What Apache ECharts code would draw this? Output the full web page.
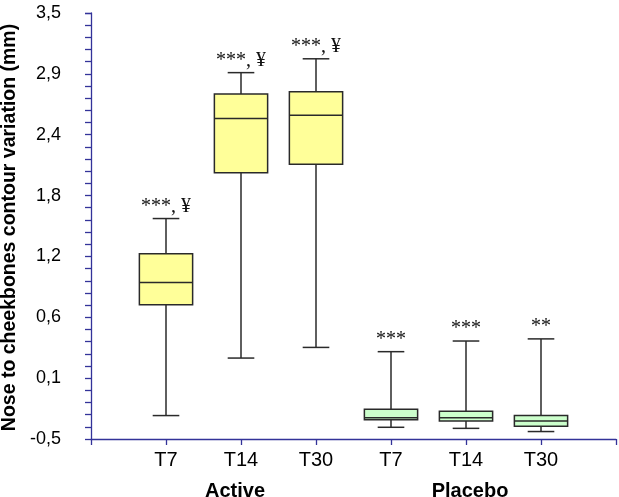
<!DOCTYPE html>
<html>
<head>
<meta charset="utf-8">
<script src="https://cdn.jsdelivr.net/npm/echarts@6/dist/echarts.min.js"></script>
<style>html,body{margin:0;padding:0;background:#fff;}#c{width:619px;height:497px;}</style>
</head>
<body>
<div id="c"></div>
<script>
const categories = ['T7', 'T14', 'T30', 'T7', 'T14', 'T30'];
const groups = ['Active', 'Placebo'];
const groupOf = [0, 0, 0, 1, 1, 1];
const whiskerLow = [-0.28, 0.26, 0.36, -0.39, -0.40, -0.43];
const q1 = [0.76, 2.00, 2.08, -0.32, -0.33, -0.38];
const median = [0.97, 2.51, 2.54, -0.30, -0.30, -0.33];
const q3 = [1.24, 2.74, 2.76, -0.22, -0.24, -0.28];
const whiskerHigh = [1.57, 2.94, 3.07, 0.32, 0.42, 0.44];
const annotations = ['***, ¥', '***, ¥', '***, ¥', '***', '***', '**'];
const yLabels = ['-0,5', '0,1', '0,6', '1,2', '1,8', '2,4', '2,9', '3,5'];

const fills = ['#FFFF99', '#CCFFCC'];
const axisColor = '#333399';

const axisCats = [''].concat(categories, ['']);
const data = categories.map((c, i) => [i + 1, whiskerLow[i], q1[i], median[i], q3[i], whiskerHigh[i], i]);

const chart = echarts.init(document.getElementById('c'));
chart.setOption({
  animation: false,
  grid: { left: 91, right: 2, top: 13, bottom: 58 },
  xAxis: {
    type: 'category',
    data: axisCats,
    boundaryGap: false,
    axisLine: { onZero: false, lineStyle: { color: axisColor, width: 1.3 } },
    axisTick: { show: true, length: 6, inside: false, lineStyle: { color: axisColor, width: 1.3 } },
    axisLabel: { color: '#000', fontSize: 20, fontFamily: 'Liberation Sans, Arial', margin: 11, interval: 0 },
    splitLine: { show: false }
  },
  yAxis: {
    type: 'value',
    min: -0.5,
    max: 3.5,
    interval: 4 / 7,
    axisLine: { show: true, lineStyle: { color: axisColor, width: 1.3 } },
    axisTick: { show: true, length: 6, lineStyle: { color: axisColor, width: 1.3 } },
    minorTick: { show: true, splitNumber: 5, length: 6, lineStyle: { color: axisColor, width: 1.3 } },
    splitLine: { show: false },
    axisLabel: {
      color: '#000', fontSize: 18, fontFamily: 'Liberation Sans, Arial', margin: 30,
      formatter: function (v) {
        const k = Math.round((v + 0.5) / (4 / 7));
        return yLabels[k] !== undefined ? yLabels[k] : '';
      }
    }
  },
  graphic: [
    {
      type: 'text', x: 9.5, y: 227.5, rotation: Math.PI / 2,
      style: { text: 'Nose to cheekbones contour variation (mm)', fontSize: 19.5, fontWeight: 'bold',
        fontFamily: 'Liberation Sans, Arial', fill: '#000', textAlign: 'center', textVerticalAlign: 'middle' }
    },
    {
      type: 'text', x: 235, y: 491,
      style: { text: groups[0], fontSize: 20, fontWeight: 'bold', fontFamily: 'Liberation Sans, Arial',
        fill: '#000', textAlign: 'center', textVerticalAlign: 'middle' }
    },
    {
      type: 'text', x: 470, y: 491,
      style: { text: groups[1], fontSize: 20, fontWeight: 'bold', fontFamily: 'Liberation Sans, Arial',
        fill: '#000', textAlign: 'center', textVerticalAlign: 'middle' }
    }
  ],
  series: [{
    type: 'custom',
    data: data,
    encode: { x: 0, y: [1, 2, 3, 4, 5] },
    renderItem: function (params, api) {
      const x = api.value(0);
      const idx = api.value(6);
      const pLow = api.coord([x, api.value(1)]);
      const pQ1 = api.coord([x, api.value(2)]);
      const pMed = api.coord([x, api.value(3)]);
      const pQ3 = api.coord([x, api.value(4)]);
      const pHigh = api.coord([x, api.value(5)]);
      const band = api.size([1, 0])[0];
      const bw = band * 0.71;
      const cw = bw / 2;
      const cx = pLow[0];
      const stroke = { stroke: '#2a2a2a', lineWidth: 1.5 };
      return {
        type: 'group',
        children: [
          { type: 'line', shape: { x1: cx, y1: pHigh[1], x2: cx, y2: pLow[1] }, style: stroke },
          { type: 'line', shape: { x1: cx - cw / 2, y1: pHigh[1], x2: cx + cw / 2, y2: pHigh[1] }, style: stroke },
          { type: 'line', shape: { x1: cx - cw / 2, y1: pLow[1], x2: cx + cw / 2, y2: pLow[1] }, style: stroke },
          { type: 'rect', shape: { x: cx - bw / 2, y: pQ3[1], width: bw, height: pQ1[1] - pQ3[1] },
            style: { fill: fills[groupOf[idx]], stroke: '#2a2a2a', lineWidth: 1.5 } },
          { type: 'line', shape: { x1: cx - bw / 2, y1: pMed[1], x2: cx + bw / 2, y2: pMed[1] }, style: stroke },
          { type: 'text', x: cx, y: pHigh[1] - 2,
            style: { text: annotations[idx], fontSize: 20, fontFamily: 'Liberation Serif, Times New Roman',
              fill: '#111', textAlign: 'center', textVerticalAlign: 'bottom' } }
        ]
      };
    }
  }]
});
</script>
</body>
</html>
